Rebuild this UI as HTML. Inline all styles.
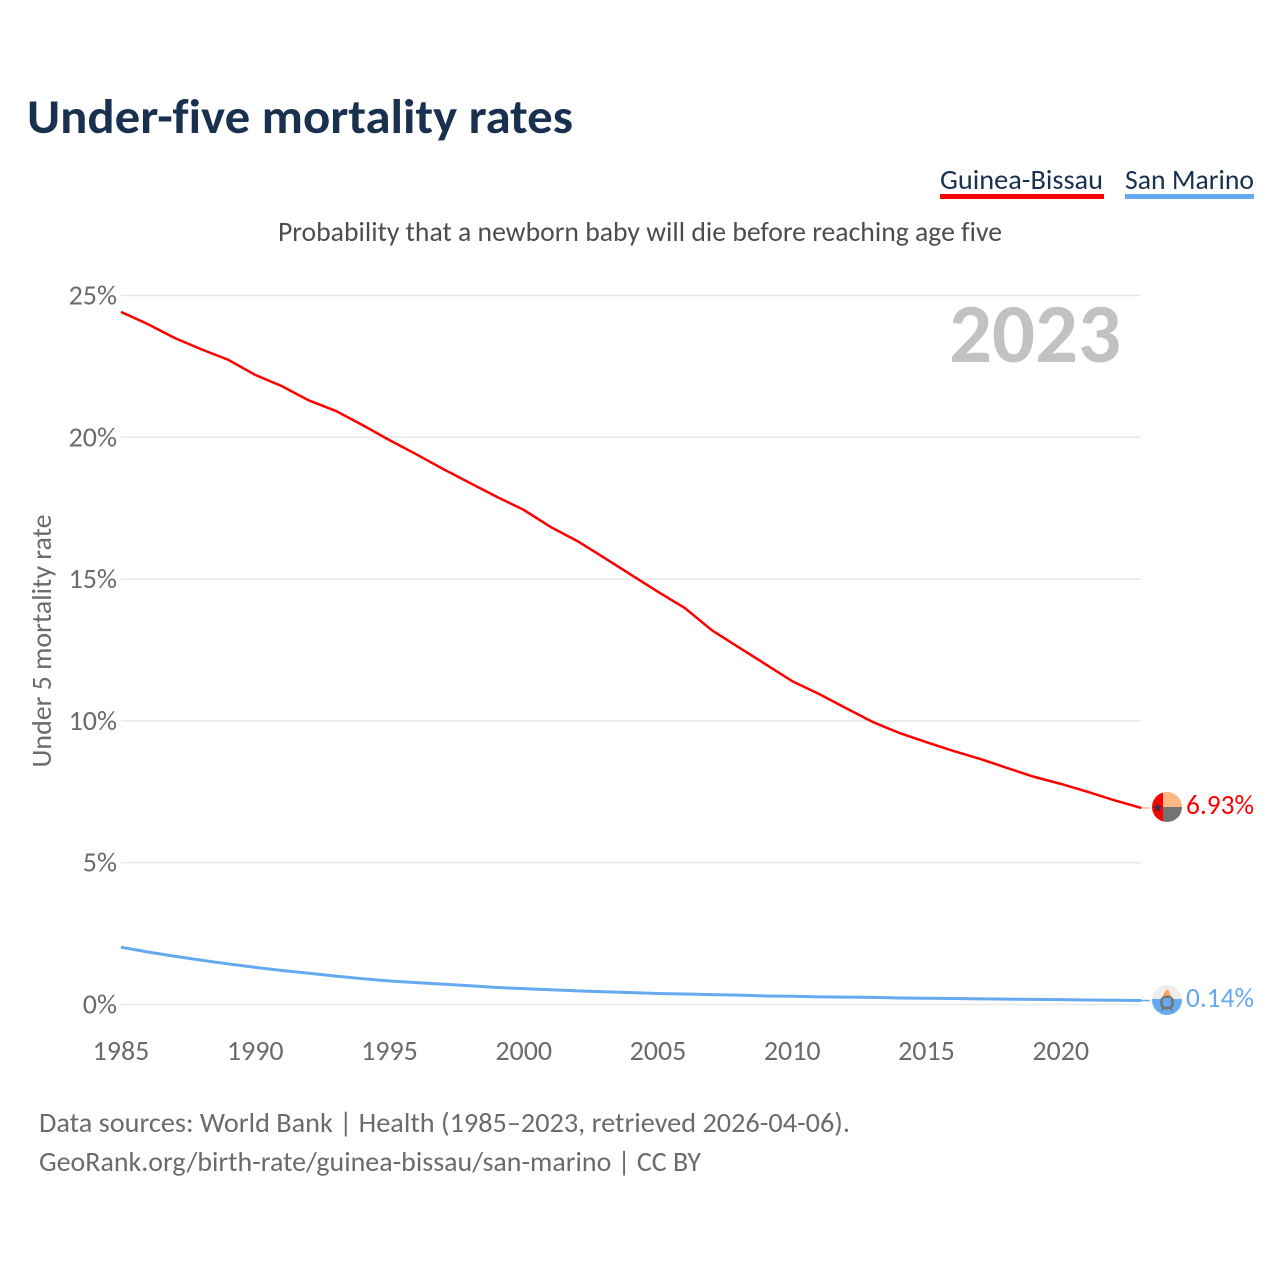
<!DOCTYPE html>
<html lang="en">
<head>
<meta charset="utf-8">
<title>Under-five mortality rates</title>
<style>
html,body{margin:0;padding:0;background:#fff;}
svg{display:block;}
text{font-family:"Carlito","Lato","Liberation Sans","DejaVu Sans",sans-serif;font-variant-ligatures:none;}
</style>
</head>
<body>
<svg id="chart" width="1280" height="1280" viewBox="0 0 1280 1280" xmlns="http://www.w3.org/2000/svg">
  <rect x="0" y="0" width="1280" height="1280" fill="#ffffff"/>
  <text x="27" y="133" font-size="49" font-weight="700" fill="#19304f" textLength="546" lengthAdjust="spacingAndGlyphs">Under-five mortality rates</text>

  <g>
    <text x="940" y="189" font-size="28" fill="#19304f" textLength="163" lengthAdjust="spacingAndGlyphs">Guinea-Bissau</text>
    <rect x="940" y="194" width="164" height="5" fill="#ff0000"/>
  </g>
  <g>
    <text x="1125" y="189" font-size="28" fill="#19304f" textLength="129" lengthAdjust="spacingAndGlyphs">San Marino</text>
    <rect x="1125" y="194" width="129" height="5" fill="#65a9ef"/>
  </g>

  <text x="278" y="241" font-size="28" fill="#4d4d4d" textLength="724" lengthAdjust="spacingAndGlyphs">Probability that a newborn baby will die before reaching age five</text>

  <g id="grid"></g>
  <g id="yticks"></g>
  <g id="xticks"></g>

  <text transform="translate(51,641) rotate(-90)" text-anchor="middle" font-size="28" fill="#6b6b6b" textLength="253" lengthAdjust="spacingAndGlyphs">Under 5 mortality rate</text>

  <text x="949" y="362" font-size="84" font-weight="700" fill="#c2c2c2" textLength="172" lengthAdjust="spacingAndGlyphs">2023</text>

  <g id="series"></g>

  <g>
    <clipPath id="clip-gb"><circle cx="1167" cy="807" r="15"/></clipPath>
    <g clip-path="url(#clip-gb)">
      <rect x="1152" y="792" width="11" height="30" fill="#ff0000"/>
      <rect x="1163" y="792" width="19" height="15" fill="#ffb784"/>
      <rect x="1163" y="807" width="19" height="15" fill="#737373"/>
    </g>
    <polygon points="1157.5,803 1158.7,806.2 1162,806.3 1159.4,808.4 1160.3,811.6 1157.5,809.7 1154.7,811.6 1155.6,808.4 1153,806.3 1156.3,806.2" fill="#2b3553"/>
  </g>
  <g>
    <clipPath id="clip-sm"><circle cx="1167" cy="1000" r="15"/></clipPath>
    <g clip-path="url(#clip-sm)">
      <rect x="1152" y="985" width="30" height="15" fill="#eeeeee"/>
      <rect x="1152" y="999" width="30" height="16" fill="#65a9ef"/>
    </g>
    <path d="M1167 989 C1170 992 1171 995 1171 998 L1163 998 C1163 995 1164 992 1167 989 Z" fill="#f6a66b"/>
    <rect x="1161.5" y="997" width="11" height="11" rx="4" fill="none" stroke="#77716c" stroke-width="2.5"/>
    <rect x="1163" y="998" width="8" height="6" fill="#65a9ef"/>
    <path d="M1163 1008 L1162 1011 M1171 1008 L1172 1011" stroke="#77716c" stroke-width="1.5"/>
  </g>

  <text id="label-gb" x="1186" y="814" font-size="28" fill="#ff0000" textLength="68" lengthAdjust="spacingAndGlyphs"></text>
  <text id="label-sm" x="1186" y="1007" font-size="28" fill="#65a9ef" textLength="68" lengthAdjust="spacingAndGlyphs"></text>

  <text x="39" y="1132" font-size="28" fill="#6b6b6b" textLength="811" lengthAdjust="spacingAndGlyphs">Data sources: World Bank | Health (1985–2023, retrieved 2026-04-06).</text>
  <text x="39" y="1171" font-size="28" fill="#6b6b6b" textLength="662" lengthAdjust="spacingAndGlyphs">GeoRank.org/birth-rate/guinea-bissau/san-marino | CC BY</text>
</svg>

<script>
const years = [1985,1986,1987,1988,1989,1990,1991,1992,1993,1994,1995,1996,1997,1998,1999,2000,2001,2002,2003,2004,2005,2006,2007,2008,2009,2010,2011,2012,2013,2014,2015,2016,2017,2018,2019,2020,2021,2022,2023];
const guineaBissau = [24.42,23.99,23.5,23.1,22.73,22.2,21.8,21.3,20.93,20.43,19.9,19.4,18.88,18.39,17.9,17.44,16.84,16.34,15.75,15.15,14.55,13.98,13.2,12.6,12.0,11.4,10.95,10.45,9.96,9.57,9.25,8.94,8.66,8.34,8.03,7.78,7.5,7.2,6.93];
const sanMarino = [2.02,1.85,1.7,1.56,1.43,1.31,1.2,1.1,1.0,0.91,0.83,0.77,0.72,0.66,0.6,0.56,0.52,0.48,0.45,0.42,0.39,0.37,0.35,0.33,0.3,0.29,0.27,0.26,0.25,0.23,0.22,0.21,0.2,0.19,0.18,0.17,0.16,0.15,0.14];
const yTickValues = [0,5,10,15,20,25];
const yTickLabels = ['0%','5%','10%','15%','20%','25%'];
const xTickValues = [1985,1990,1995,2000,2005,2010,2015,2020];
const xTickLabels = ['1985','1990','1995','2000','2005','2010','2015','2020'];

const NS = 'http://www.w3.org/2000/svg';
const xScale = function (year) { return 121 + (year - 1985) * (1141.3 - 121) / 38; };
const yScale = function (value) { return 1004.5 - value * (1004.5 - 295.5) / 25; };

const grid = document.getElementById('grid');
const yTicks = document.getElementById('yticks');
yTickValues.forEach(function (v, i) {
  const line = document.createElementNS(NS, 'line');
  
  
  line.setAttribute('x1', 121);
  line.setAttribute('x2', 1141);
  line.setAttribute('y1', yScale(v));
  line.setAttribute('y2', yScale(v));
  line.setAttribute('stroke', '#e8e8e8');
  line.setAttribute('stroke-width', '1.5');
  grid.appendChild(line);

  const label = document.createElementNS(NS, 'text');
  
  
  label.setAttribute('x', 117);
  label.setAttribute('y', yScale(v) + 9);
  label.setAttribute('text-anchor', 'end');
  label.setAttribute('font-size', '28');
  label.setAttribute('fill', '#6b6b6b');
  label.textContent = yTickLabels[i];
  yTicks.appendChild(label);
});

const xTicks = document.getElementById('xticks');
xTickValues.forEach(function (v, i) {
  const label = document.createElementNS(NS, 'text');
  
  
  label.setAttribute('x', xScale(v));
  label.setAttribute('y', 1060);
  label.setAttribute('text-anchor', 'middle');
  label.setAttribute('font-size', '28');
  label.setAttribute('fill', '#6b6b6b');
  label.textContent = xTickLabels[i];
  xTicks.appendChild(label);
});

function linePoints(values) {
  return values.map(function (v, i) {
    return xScale(years[i]).toFixed(2) + ',' + yScale(v).toFixed(2);
  }).join(' ');
}

const seriesGroup = document.getElementById('series');

const leaderGb = document.createElementNS(NS, 'line');


leaderGb.setAttribute('x1', xScale(years[years.length - 1]));
leaderGb.setAttribute('x2', 1150);
leaderGb.setAttribute('y1', yScale(guineaBissau[guineaBissau.length - 1]));
leaderGb.setAttribute('y2', yScale(guineaBissau[guineaBissau.length - 1]));
leaderGb.setAttribute('stroke', '#ffb784');
leaderGb.setAttribute('stroke-width', '1.5');
seriesGroup.appendChild(leaderGb);

const leaderSm = document.createElementNS(NS, 'line');


leaderSm.setAttribute('x1', xScale(years[years.length - 1]));
leaderSm.setAttribute('x2', 1150);
leaderSm.setAttribute('y1', yScale(sanMarino[sanMarino.length - 1]));
leaderSm.setAttribute('y2', yScale(sanMarino[sanMarino.length - 1]));
leaderSm.setAttribute('stroke', '#65a9ef');
leaderSm.setAttribute('stroke-width', '1.5');
seriesGroup.appendChild(leaderSm);

const lineGb = document.createElementNS(NS, 'polyline');


lineGb.setAttribute('points', linePoints(guineaBissau));
lineGb.setAttribute('fill', 'none');
lineGb.setAttribute('stroke', '#ff0000');
lineGb.setAttribute('stroke-width', '2.5');
seriesGroup.appendChild(lineGb);

const lineSm = document.createElementNS(NS, 'polyline');


lineSm.setAttribute('points', linePoints(sanMarino));
lineSm.setAttribute('fill', 'none');
lineSm.setAttribute('stroke', '#65a9ef');
lineSm.setAttribute('stroke-width', '3');
seriesGroup.appendChild(lineSm);

document.getElementById('label-gb').textContent = guineaBissau[guineaBissau.length - 1].toFixed(2) + '%';
document.getElementById('label-sm').textContent = sanMarino[sanMarino.length - 1].toFixed(2) + '%';
</script>
</body>
</html>
